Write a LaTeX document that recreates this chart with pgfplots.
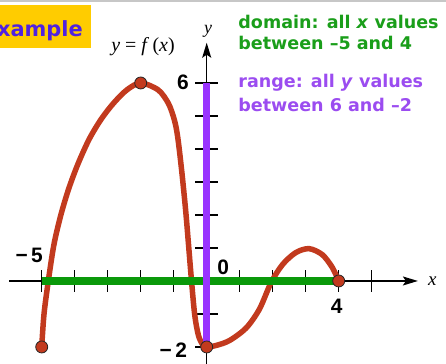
\documentclass[border=0pt]{standalone}
\usepackage{fontspec}
\setmainfont{Liberation Sans}
\newfontfamily\verd{DejaVu Sans}
\newfontfamily\tms{Liberation Serif}
\usepackage{pgfplots}
\pgfplotsset{compat=1.18}
\usetikzlibrary{arrows.meta}
\definecolor{curvered}{HTML}{C23A1E}
\definecolor{domgreen}{HTML}{0A990A}
\definecolor{rangepurple}{HTML}{9933FF}
\definecolor{txtgreen}{HTML}{1A9E1A}
\definecolor{txtpurple}{HTML}{9B4CF0}
\definecolor{boxyellow}{HTML}{FFCC00}
\definecolor{boxtext}{HTML}{5022E0}
\newcommand\mn{\char"2212\relax}
\newcommand\nd{\char"2013\relax}

\begin{document}
\begin{tikzpicture}
\begin{axis}[
    x=33bp, y=33bp,
    xmin=-6.264, xmax=7.252,
    ymin=-2.515, ymax=8.515,
    hide axis,
    clip=false,
]
\coordinate (bl) at (axis cs:-6.264,-2.515);
\coordinate (tr) at (axis cs:7.252,8.515);

% frame bits
\fill[black!22] (axis cs:-6.264,8.515) rectangle (axis cs:7.252,8.455);
\fill[boxyellow] (axis cs:-6.264,8.364) rectangle (axis cs:-3.516,7.06);
\node[anchor=base west, inner sep=0pt, text=boxtext, font=\verd\bfseries\fontsize{21}{24}\selectfont]
    at (axis cs:-6.36,7.394) {xample};

% axes
\draw[black, line width=1.4bp, -{Stealth[length=15bp,width=9bp,inset=3bp]}]
    (axis cs:-5.98,0) -- (axis cs:6.40,0);
\draw[black, line width=1.4bp, -{Stealth[length=15bp,width=9bp,inset=3bp]}]
    (axis cs:0,-2.6) -- (axis cs:0,7.22);
\pgfplotsinvokeforeach{-5,-4,-3,-2,-1,1,2,3,4,5}{
    \draw[black, line width=1.3bp] (axis cs:#1,-0.33) -- (axis cs:#1,0.33);
}
\pgfplotsinvokeforeach{-2,-1,1,2,3,4,5,6}{
    \draw[black, line width=1.3bp] (axis cs:-0.35,#1) -- (axis cs:0.35,#1);
}

% the function
\addplot[curvered, line width=5.5bp, smooth] coordinates {
    (-5,-2) (-4.93,-1) (-4.8,0) (-4.63,1.1) (-4.42,2.0) (-4.18,2.8)
    (-3.9,3.55) (-3.56,4.3) (-3.2,4.9) (-2.83,5.38) (-2.42,5.79) (-2,6)
    (-1.47,5.79) (-1.16,5.38) (-0.98,4.88) (-0.88,4.37) (-0.76,3.36)
    (-0.63,2.05) (-0.46,0) (-0.36,-1.05) (-0.25,-1.65) (-0.12,-1.93) (0,-2)
    (0.3,-1.95) (0.7,-1.8) (1.2,-1.42) (1.6,-0.85) (1.95,-0.05) (2.3,0.5)
    (2.7,0.86) (3.1,0.98) (3.5,0.8) (3.8,0.42) (4,0)
};
% domain
\addplot[domgreen, line width=7.5bp] coordinates {(-5,0) (4,0)};
% end points and maximum
\addplot[only marks, mark=*, mark size=6bp,
    mark options={fill=curvered, draw=black!85, line width=0.8bp}]
    coordinates {(-5,-2) (-2,6) (0,-2) (4,0)};
% range
\addplot[rangepurple, line width=7.5bp] coordinates {(0,-2) (0,6)};

% labels
\tikzset{num/.style={font=\bfseries\fontsize{21}{24}\selectfont, inner sep=0pt}}
\node[num] at (axis cs:-5.38,0.79) {\mn\,5};
\node[num] at (axis cs:0.50,0.40) {0};
\node[num] at (axis cs:3.94,-0.78) {4};
\node[num] at (axis cs:-1.01,-2.11) {\mn\,2};
\node[num] at (axis cs:-0.72,6.03) {6};
\node[font=\tms\itshape\fontsize{19}{20}\selectfont, inner sep=0pt] at (axis cs:6.84,-0.02) {x};
\node[font=\tms\itshape\fontsize{18}{18}\selectfont, inner sep=0pt] at (axis cs:0.04,7.58) {y};
\node[font=\tms\fontsize{20}{20}\selectfont, inner sep=0pt] at (axis cs:-1.93,7.09)
    {\textit{y} = \textit{f}\,(\textit{x})};

\tikzset{side/.style={anchor=west, inner sep=0pt, font=\verd\bfseries\fontsize{17.6}{20}\selectfont}}
\node[side, text=txtgreen] at (axis cs:0.955,7.86) {domain: all \textit{x} values};
\node[side, text=txtgreen] at (axis cs:0.955,7.21) {between \nd5 and 4};
\node[side, text=txtpurple] at (axis cs:0.955,6.00) {range: all \textit{y} values};
\node[side, text=txtpurple] at (axis cs:0.955,5.33) {between 6 and \nd2};
\end{axis}
\pgfresetboundingbox
\useasboundingbox (bl) rectangle (tr);
\end{tikzpicture}
\end{document}
